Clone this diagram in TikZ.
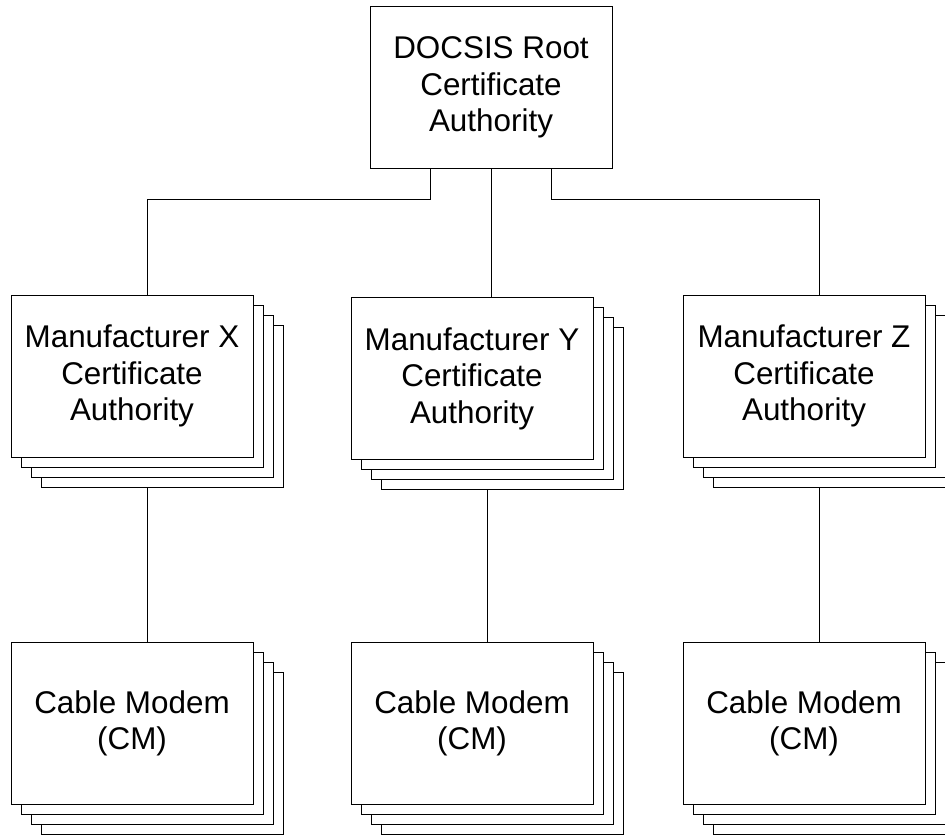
\documentclass[tikz,border=0pt]{standalone}
\usepackage{fontspec}
\setmainfont{Liberation Sans}
\usetikzlibrary{positioning,calc}

\tikzset{
    cabox/.style={draw, fill=white, minimum width=121pt, minimum height=81pt, inner sep=0pt, align=center, font=\fontsize{15.7}{18.3}\selectfont},
    backbox/.style={draw, fill=white, minimum width=121pt, minimum height=81pt, inner sep=0pt},
    link/.style={draw}
}

\begin{document}
\begin{tikzpicture}[x=0.5pt, y=-0.5pt, line width=0.5pt]
    \useasboundingbox (0,0) rectangle (945,836);
    \clip (0,0) rectangle (945,836);

    \node[cabox] (root) at (491,87.5) {DOCSIS Root\\Certificate\\Authority};

    % paper stacks behind every box, the last one first
    \foreach \nm/\px/\py in {mfrx/132/376, mfry/472/378.5, mfrz/804/376, cmx/132/723.5, cmy/472/723.5, cmz/804/723.5}{
        \foreach \k in {3,2,1}
            \node[backbox] (\nm-\k) at (\px+10*\k,\py+10*\k) {};
    }

    \node[cabox] (mfrx) at (132,376) {Manufacturer X\\Certificate\\Authority};
    \node[cabox] (mfry) at (472,378.5) {Manufacturer Y\\Certificate\\Authority};
    \node[cabox] (mfrz) at (804,376) {Manufacturer Z\\Certificate\\Authority};
    \node[cabox] (cmx) at (132,723.5) {Cable Modem\\(CM)};
    \node[cabox] (cmy) at (472,723.5) {Cable Modem\\(CM)};
    \node[cabox] (cmz) at (804,723.5) {Cable Modem\\(CM)};

    % middle of each stack, and the height of the bus below the root
    \foreach \nm in {mfrx,mfry,mfrz}
        \coordinate (\nm-c) at ($(\nm.center)!0.5!(\nm-3.center)$);
    \coordinate (bus) at (0,199);

    \draw[link] ($(root.south west)!0.25!(root.south east)$) |- (bus -| mfrx-c) -- (mfrx.north -| mfrx-c); % root to X
    \draw[link] (root.south) -- (mfry.north -| root.south);                                                % root to Y
    \draw[link] ($(root.south west)!0.75!(root.south east)$) |- (bus -| mfrz-c) -- (mfrz.north -| mfrz-c); % root to Z
    \draw[link] (mfrx-3.south -| mfrx-c) -- (cmx.north -| mfrx-c); % X to its modems
    \draw[link] (mfry-3.south -| mfry-c) -- (cmy.north -| mfry-c); % Y to its modems
    \draw[link] (mfrz-3.south -| mfrz-c) -- (cmz.north -| mfrz-c); % Z to its modems
\end{tikzpicture}
\end{document}
